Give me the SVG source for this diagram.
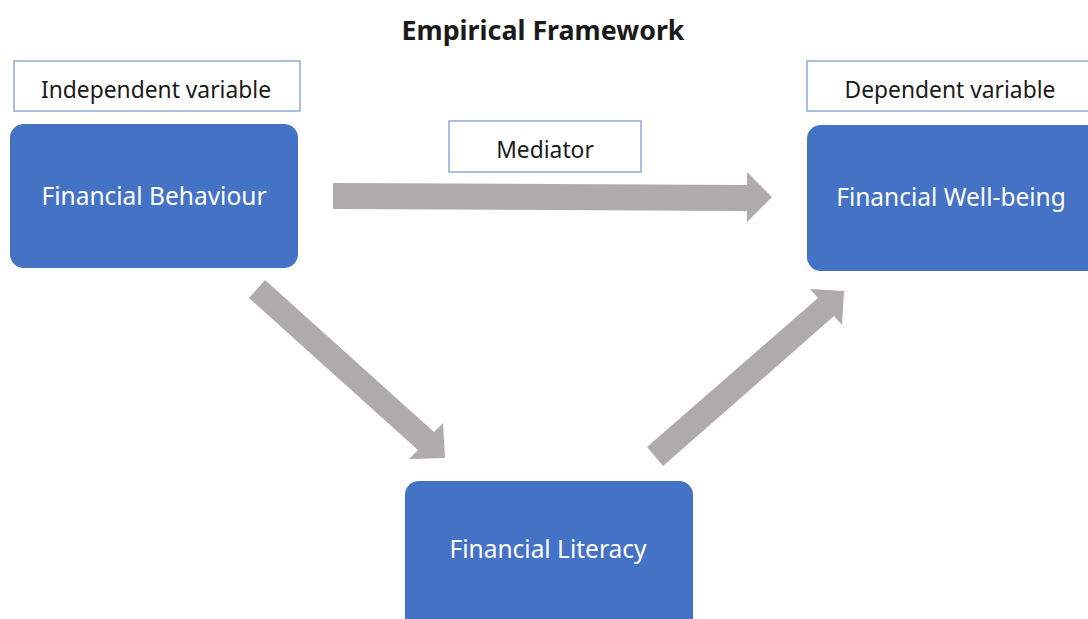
<svg xmlns="http://www.w3.org/2000/svg" width="1088" height="619" viewBox="0 0 1088 619">
  <style>
    .node { fill: #4472C4; }
    .node-text { font-family: "Noto Sans", "Open Sans", sans-serif; font-size: 24.5px; fill: #ffffff; text-anchor: middle; }
    .tag { fill: #ffffff; stroke: #8FAADC; stroke-width: 1.5; }
    .tag-text { font-family: "Noto Sans", "Open Sans", sans-serif; font-size: 22.8px; fill: #1a1a1a; text-anchor: middle; }
    .arrow { fill: #AEABAA; }
    .title { font-family: "Noto Sans", "Open Sans", sans-serif; font-size: 26.8px; font-weight: bold; fill: #1a1a1a; text-anchor: middle; }
  </style>
  <rect width="1088" height="619" fill="#ffffff"/>

  <text class="title" x="543" y="40">Empirical Framework</text>

  <!-- role labels -->
  <g id="label-independent">
    <rect class="tag" x="14" y="61" width="286" height="50"/>
    <text class="tag-text" x="156" y="98">Independent variable</text>
  </g>
  <g id="label-mediator">
    <rect class="tag" x="449" y="121" width="192" height="51"/>
    <text class="tag-text" x="545" y="158">Mediator</text>
  </g>
  <g id="label-dependent">
    <rect class="tag" x="807" y="61" width="290" height="50"/>
    <text class="tag-text" x="950" y="98">Dependent variable</text>
  </g>

  <!-- variables -->
  <g id="node-behaviour">
    <rect class="node" x="10" y="124" width="288" height="144" rx="14"/>
    <text class="node-text" x="154" y="205">Financial Behaviour</text>
  </g>
  <g id="node-wellbeing">
    <rect class="node" x="807" y="125" width="300" height="146" rx="14"/>
    <text class="node-text" x="951" y="206">Financial Well-being</text>
  </g>
  <g id="node-literacy">
    <rect class="node" x="405" y="481" width="288" height="160" rx="14"/>
    <text class="node-text" x="548" y="558">Financial Literacy</text>
  </g>

  <!-- block arrows -->
  <g id="connectors">
    <polygon class="arrow" points="333,183 747,185 747,172 772,197 747,222 747,211 333,209"/>
    <polygon class="arrow" points="265,280 434,432 443,423 445,458 409,459 418,450 249,298"/>
    <polygon class="arrow" points="647,447 818,298 810,289 844,291 842,325 834,316 663,466"/>
  </g>
</svg>
